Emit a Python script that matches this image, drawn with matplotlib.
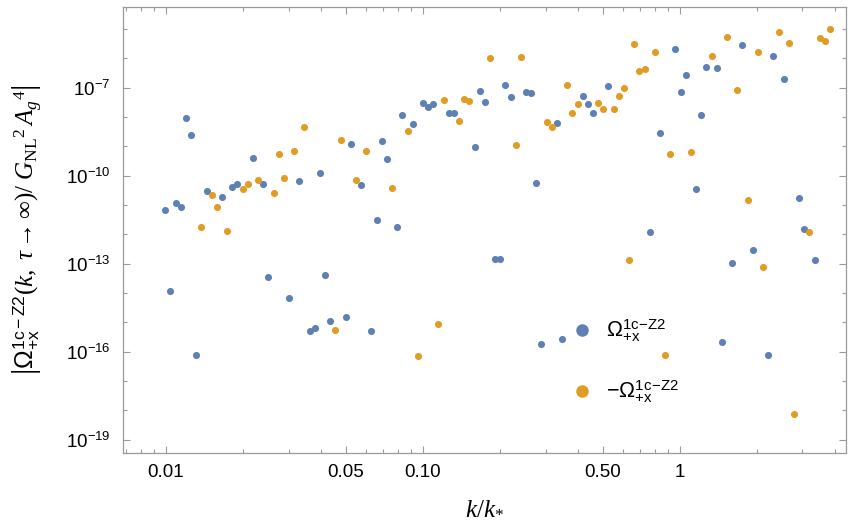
import numpy as np
import matplotlib
matplotlib.use("Agg")
import matplotlib.pyplot as plt
from matplotlib.ticker import FixedLocator, FixedFormatter, NullFormatter, LogFormatterMathtext
from matplotlib.lines import Line2D

plt.rcParams['font.family'] = ['Liberation Sans', 'DejaVu Sans']
plt.rcParams['mathtext.fontset'] = 'custom'
plt.rcParams['mathtext.rm'] = 'Liberation Serif'
plt.rcParams['mathtext.it'] = 'Liberation Serif:italic'
plt.rcParams['mathtext.sf'] = 'Liberation Sans'

# k / k_* sample points (log spaced)
k = [0.00994, 0.01041, 0.01090, 0.01142, 0.01196, 0.01252, 0.01311, 0.01373, 0.01438, 0.01506,
     0.01577, 0.01652, 0.01730, 0.01812, 0.01897, 0.01987, 0.02081, 0.02179, 0.02282, 0.02390,
     0.02503, 0.02621, 0.02745, 0.02875, 0.03010, 0.03152, 0.03302, 0.03458, 0.03621, 0.03793,
     0.03972, 0.04160, 0.04356, 0.04562, 0.04778, 0.05004, 0.05241, 0.05488, 0.05748, 0.06020,
     0.06304, 0.06602, 0.06914, 0.07241, 0.07583, 0.07942, 0.08317, 0.08710, 0.09123, 0.09552,
     0.1000, 0.1048, 0.1097, 0.1149, 0.1203, 0.1260, 0.1320, 0.1382, 0.1448, 0.1516,
     0.1588, 0.1663, 0.1741, 0.1824, 0.1910, 0.2000, 0.2095, 0.2194, 0.2297, 0.2406,
     0.2520, 0.2639, 0.2763, 0.2894, 0.3031, 0.3174, 0.3324, 0.3481, 0.3646, 0.3818,
     0.3999, 0.4188, 0.4385, 0.4593, 0.4810, 0.5037, 0.5275, 0.5525, 0.5786, 0.6059,
     0.6346, 0.6645, 0.6960, 0.7288, 0.7633, 0.7993, 0.8371, 0.8767, 0.9182, 0.9616,
     1.007, 1.055, 1.104, 1.157, 1.211, 1.269, 1.329, 1.391, 1.457, 1.526,
     1.598, 1.674, 1.753, 1.836, 1.922, 2.013, 2.108, 2.208, 2.312, 2.421,
     2.536, 2.656, 2.781, 2.912, 3.050, 3.194, 3.345, 3.503, 3.669, 3.843]

# log10 |Omega| at each k
log_abs_omega = [-11.18, -13.92, -10.94, -11.07, -8.02, -8.60, -16.12, -11.76, -10.52, -10.67,
                 -11.07, -10.72, -11.88, -10.39, -10.27, -10.44, -10.28, -9.41, -10.16, -10.29,
                 -13.45, -10.58, -9.26, -10.08, -14.19, -9.16, -10.18, -8.33, -15.30, -15.20,
                 -9.90, -13.39, -14.96, -15.26, -8.78, -14.82, -8.91, -10.15, -10.31, -9.15,
                 -15.29, -11.50, -8.82, -9.42, -10.42, -11.75, -7.95, -8.49, -8.23, -16.14,
                 -7.52, -7.65, -7.57, -15.07, -7.41, -7.87, -7.87, -8.13, -7.40, -7.46,
                 -9.03, -7.12, -7.48, -5.98, -12.86, -12.83, -6.92, -7.31, -8.96, -5.96,
                 -7.16, -7.19, -10.26, -15.75, -8.18, -8.33, -8.19, -15.58, -6.90, -7.86,
                 -7.55, -7.28, -7.56, -7.85, -7.51, -7.72, -6.93, -7.72, -7.29, -7.02,
                 -12.87, -5.50, -6.45, -6.36, -11.91, -5.77, -8.55, -16.12, -9.25, -5.69,
                 -7.15, -6.58, -9.20, -10.45, -7.93, -6.30, -5.91, -6.32, -15.68, -5.27,
                 -12.97, -7.09, -5.55, -10.84, -12.55, -5.77, -13.10, -16.11, -5.93, -5.12,
                 -6.69, -5.48, -18.13, -10.77, -11.83, -11.94, -12.89, -5.32, -5.40, -5.00]

# sign of Omega (+1 blue, -1 orange)
sign = [1, 1, 1, 1, 1, 1, 1, -1, 1, -1,
        -1, 1, -1, 1, 1, -1, -1, 1, -1, 1,
        1, -1, -1, -1, 1, -1, 1, -1, 1, 1,
        1, 1, 1, -1, -1, 1, 1, -1, 1, -1,
        1, 1, 1, 1, -1, 1, 1, -1, 1, -1,
        1, 1, 1, -1, -1, 1, 1, -1, -1, -1,
        1, 1, 1, -1, 1, 1, 1, 1, -1, -1,
        1, 1, 1, 1, -1, -1, 1, 1, -1, -1,
        -1, 1, 1, 1, -1, -1, 1, -1, -1, -1,
        -1, -1, -1, -1, 1, -1, 1, -1, -1, 1,
        1, 1, -1, 1, 1, 1, -1, 1, 1, -1,
        1, -1, 1, -1, 1, -1, -1, 1, 1, -1,
        1, -1, -1, 1, 1, -1, 1, -1, -1, -1]

blue = '#5e81b5'
orange = '#e19c24'
framecol = '#9a9a9a'

k = np.array(k)
omega = np.array(sign) * 10.0 ** np.array(log_abs_omega)
pos = omega > 0

fig = plt.figure(figsize=(8.55, 5.29), dpi=100)
ax = fig.add_axes([0.1442, 0.1442, 0.8449, 0.8426])

ax.scatter(k[pos], omega[pos], s=26, color=blue, linewidths=0, zorder=3)
ax.scatter(k[~pos], -omega[~pos], s=26, color=orange, linewidths=0, zorder=3)

ax.set_xscale('log')
ax.set_yscale('log')
ax.set_xlim(0.00682, 4.42)
ax.set_ylim(10 ** -19.45, 10 ** -4.25)

ax.xaxis.set_major_locator(FixedLocator([0.01, 0.05, 0.1, 0.5, 1]))
ax.xaxis.set_major_formatter(FixedFormatter(['0.01', '0.05', '0.10', '0.50', '1']))
ax.xaxis.set_minor_locator(FixedLocator([0.007, 0.008, 0.009, 0.02, 0.03, 0.04, 0.06, 0.07, 0.08, 0.09,
                                         0.2, 0.3, 0.4, 0.6, 0.7, 0.8, 0.9, 2, 3, 4]))
ax.xaxis.set_minor_formatter(NullFormatter())

ax.yaxis.set_major_locator(FixedLocator([10.0 ** e for e in (-19, -16, -13, -10, -7)]))
ax.yaxis.set_major_formatter(LogFormatterMathtext())
ax.yaxis.set_minor_locator(FixedLocator([10.0 ** e for e in range(-19, -4)]))
ax.yaxis.set_minor_formatter(NullFormatter())

for s in ax.spines.values():
    s.set_color(framecol)
    s.set_linewidth(0.9)
ax.tick_params(which='both', direction='in', top=True, right=True, color=framecol,
               labelsize=13.5, width=0.8)
ax.tick_params(which='major', length=5)
ax.tick_params(which='minor', length=3)
ax.tick_params(axis='x', pad=8)
ax.tick_params(axis='y', pad=9)

ax.set_xlabel(r'$k/k_{*}$', fontsize=18, labelpad=10)
ax.set_ylabel(r'$\left|\mathsf{\Omega}_{\mathsf{+x}}^{\mathsf{1c-Z2}}(k,\ \tau \rightarrow \infty)/\ '
              r'G_{\mathrm{NL}}{}^{2}\,A_{g}{}^{4}\right|$', fontsize=18, labelpad=16)

handles = [Line2D([], [], ls='', marker='o', ms=9, color=blue, mec='none'),
           Line2D([], [], ls='', marker='o', ms=9, color=orange, mec='none')]
labels = [r'$\mathsf{\Omega}_{\mathsf{+x}}^{\mathsf{1c\!-\!Z2}}$',
          r'$\mathsf{-\Omega}_{\mathsf{+x}}^{\mathsf{1c\!-\!Z2}}$']
ax.legend(handles, labels, loc='upper left', bbox_to_anchor=(0.6225, 0.303),
          frameon=False, fontsize=15.5, handlelength=0.8, handletextpad=0.75,
          labelspacing=1.6, borderpad=0, borderaxespad=0)

fig.savefig('out.png', dpi=100)
